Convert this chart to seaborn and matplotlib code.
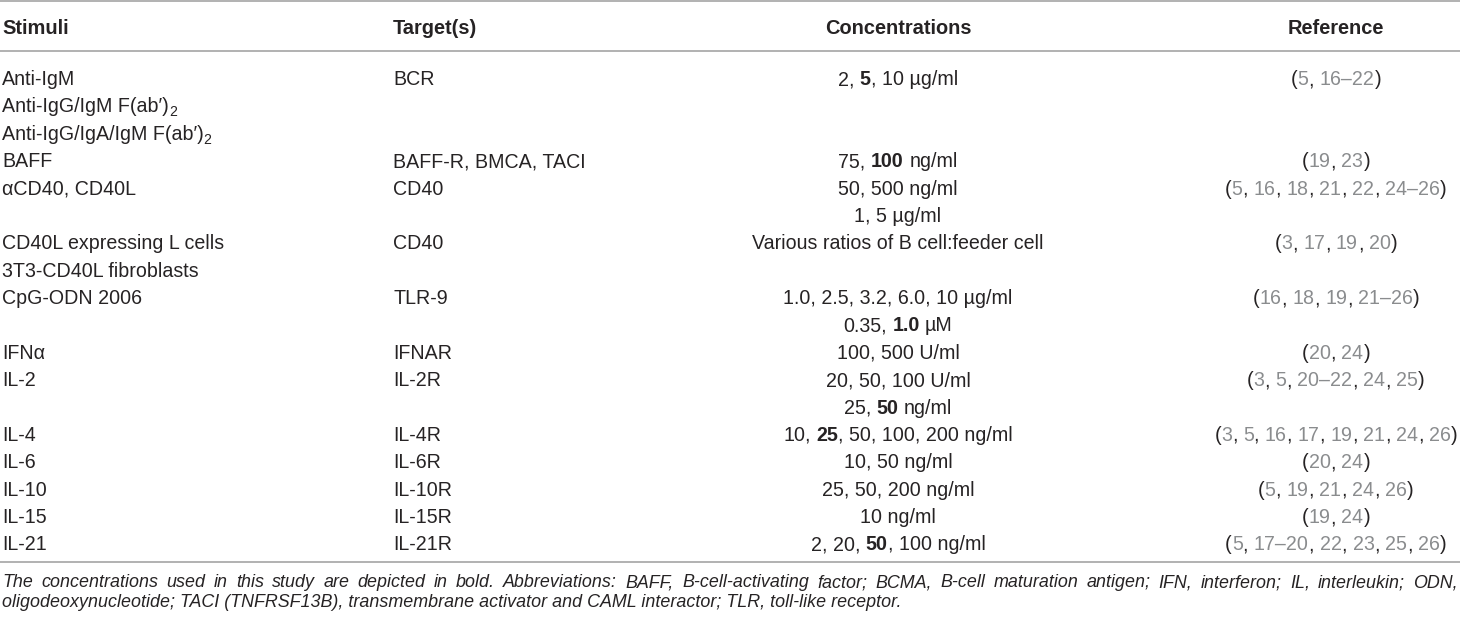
import re
import matplotlib
matplotlib.use("Agg")
import matplotlib.pyplot as plt
import seaborn as sns

# table content, one entry per printed line
stimuli = ["Anti-IgM", "Anti-IgG/IgM F(ab′)_{2}", "Anti-IgG/IgA/IgM F(ab′)_{2}", "BAFF",
           "αCD40, CD40L", "", "CD40L expressing L cells", "3T3-CD40L fibroblasts",
           "CpG-ODN 2006", "", "IFNα", "IL-2", "", "IL-4", "IL-6", "IL-10", "IL-15", "IL-21"]
targets = ["BCR", "", "", "BAFF-R, BMCA, TACI", "CD40", "", "CD40", "", "TLR-9", "",
           "IFNAR", "IL-2R", "", "IL-4R", "IL-6R", "IL-10R", "IL-15R", "IL-21R"]
concentrations = ["2, **5**, 10 µg/ml", "", "", "75, **100** ng/ml", "50, 500 ng/ml",
                  "1, 5 µg/ml", "Various ratios of B cell:feeder cell", "",
                  "1.0, 2.5, 3.2, 6.0, 10 µg/ml", "0.35, **1.0** µM", "100, 500 U/ml",
                  "20, 50, 100 U/ml", "25, **50** ng/ml", "10, **25**, 50, 100, 200 ng/ml",
                  "10, 50 ng/ml", "25, 50, 200 ng/ml", "10 ng/ml", "2, 20, **50**, 100 ng/ml"]
references = ["(5, 16–22)", "", "", "(19, 23)", "(5, 16, 18, 21, 22, 24–26)", "",
              "(3, 17, 19, 20)", "", "(16, 18, 19, 21–26)", "", "(20, 24)",
              "(3, 5, 20–22, 24, 25)", "", "(3, 5, 16, 17, 19, 21, 24, 26)", "(20, 24)",
              "(5, 19, 21, 24, 26)", "(19, 24)", "(5, 17–20, 22, 23, 25, 26)"]
headers = ["Stimuli", "Target(s)", "Concentrations", "Reference"]
note1 = ("The concentrations used in this study are depicted in bold. Abbreviations: BAFF, "
         "B-cell-activating factor; BCMA, B-cell maturation antigen; IFN, interferon; "
         "IL, interleukin; ODN,")
note2 = ("oligodeoxynucleotide; TACI (TNFRSF13B), transmembrane activator and CAML "
         "interactor; TLR, toll-like receptor.")

DARK = "#262324"
GREY = "#8a8c8e"
RULE = "#9d9d9d"
FS = 14.1
HEAD_FS = 14.4
NOTE_FS = 12.9

sns.set_theme(style="white")
plt.rcParams["font.family"] = ["Liberation Sans", "DejaVu Sans"]

fig = plt.figure(figsize=(14.6, 6.18), dpi=100)
ax = fig.add_axes([0, 0, 1, 1])
ax.set_xlim(0, 1460)
ax.set_ylim(618, 0)
ax.axis("off")
renderer = fig.canvas.get_renderer()


def width(s, **kw):
    # bars around the text so leading/trailing spaces count
    t = ax.text(0, 0, "|" + s + "|", **kw)
    w = t.get_window_extent(renderer).width
    t.remove()
    t = ax.text(0, 0, "||", **kw)
    w -= t.get_window_extent(renderer).width
    t.remove()
    return w


def parse(s, ref=False):
    segs = []
    if ref:
        for p in re.split(r"([\d–]+)", s):
            if p:
                segs.append((p, "normal", GREY if re.match(r"[\d–]", p) else DARK, False))
        return segs
    for p in re.split(r"(\*\*.+?\*\*|_\{.+?\})", s):
        if not p:
            continue
        if p.startswith("**"):
            segs.append((p[2:-2], "bold", DARK, False))
        elif p.startswith("_{"):
            segs.append((p[2:-1], "normal", DARK, True))
        else:
            segs.append((p, "normal", DARK, False))
    return segs


def draw(x, y, s, ha="left", ref=False):
    segs = parse(s, ref)
    sizes = [FS * 0.72 if sub else FS for _, _, _, sub in segs]
    ws = [width(t, fontsize=fs, fontweight=wt) for (t, wt, _, _), fs in zip(segs, sizes)]
    x0 = x - sum(ws) / 2 if ha == "center" else x
    for (t, wt, c, sub), fs, w in zip(segs, sizes, ws):
        lead = len(t) - len(t.lstrip())
        dx = width(t[:lead], fontsize=fs, fontweight=wt) if lead else 0
        if t.strip():
            ax.text(x0 + dx, y + (4 if sub else 0), t.strip(), fontsize=fs,
                    fontweight=wt, color=c, va="baseline", ha="left")
        x0 += w


# rules
for y in [1, 51, 562]:
    ax.axhline(y, color=RULE, lw=1.1)

# header
ax.text(2, 33.5, headers[0], fontsize=HEAD_FS, fontweight="bold", color=DARK, va="baseline")
ax.text(393, 33.5, headers[1], fontsize=HEAD_FS, fontweight="bold", color=DARK, va="baseline")
ax.text(898, 33.5, headers[2], fontsize=HEAD_FS, fontweight="bold", color=DARK,
        va="baseline", ha="center")
ax.text(1336, 33.5, headers[3], fontsize=HEAD_FS, fontweight="bold", color=DARK,
        va="baseline", ha="center")

# body
for i in range(len(stimuli)):
    y = 85 + i * 27.38
    if stimuli[i]:
        draw(2, y, stimuli[i])
    if targets[i]:
        draw(393, y, targets[i])
    if concentrations[i]:
        draw(898, y, concentrations[i], ha="center")
    if references[i]:
        draw(1336, y, references[i], ha="center", ref=True)

# footnote, first line justified
words = note1.split(" ")
ws = [width(w, fontsize=NOTE_FS, fontstyle="italic") for w in words]
gap = (1458 - 2 - sum(ws)) / (len(words) - 1)
x = 2
for w, wd in zip(words, ws):
    ax.text(x, 587, w, fontsize=NOTE_FS, fontstyle="italic", color=DARK, va="baseline")
    x += wd + gap
ax.text(2, 607, note2, fontsize=NOTE_FS, fontstyle="italic", color=DARK, va="baseline")

fig.savefig("out.png", dpi=100)
